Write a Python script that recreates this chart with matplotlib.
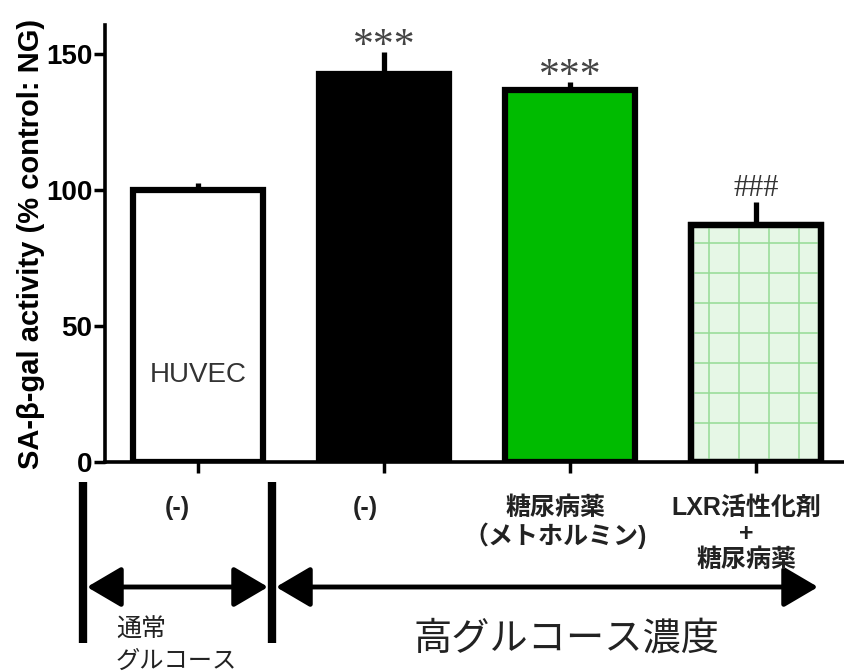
import numpy as np
import matplotlib.pyplot as plt
from matplotlib import transforms
from matplotlib.patches import FancyArrowPatch

# data
groups = ["NG", "HG", "HG+Met", "HG+LXR+Met"]
activity = [100.0, 142.5, 136.8, 87.3]
sem = [2.5, 8.3, 3.0, 8.4]
marks = ["", "***", "***", "###"]
treat_labels = ["(-)", "(-)", "糖尿病薬\n（メトホルミン)", "LXR活性化剤\n+\n糖尿病薬"]
yticks = [0, 50, 100, 150]

plt.rcParams["font.family"] = ["Liberation Sans", "Noto Sans CJK JP", "DejaVu Sans"]

W, H = 844, 672
fig = plt.figure(figsize=(W / 100, H / 100), dpi=100)
ax = fig.add_axes([105 / W, 1 - 462 / H, 1 - 105 / W, (462 - 25) / H])


def fy(py):
    return 1 - py / H


x = np.arange(len(groups))
face = ["white", "black", "#00bb00", "#e6f7e6"]
bars = ax.bar(x, activity, width=0.7, color=face, edgecolor="black",
              linewidth=4.5, zorder=2)

# grid pattern inside the last bar
b = bars[3]
for gx in np.arange(-0.253, 0.3, 0.161):
    ln, = ax.plot([x[3] + gx] * 2, [0, activity[3]], color="#95db95", lw=1.1, zorder=2.5)
    ln.set_clip_path(b)
for gy in np.arange(14.3, activity[3], 11.03):
    ln, = ax.plot([x[3] - 0.35, x[3] + 0.35], [gy, gy], color="#95db95", lw=1.1, zorder=2.5)
    ln.set_clip_path(b)
ax.bar(x[3], activity[3], width=0.7, color="none", edgecolor="black",
       linewidth=4.5, zorder=3)

ax.errorbar(x, activity, yerr=[np.zeros(len(sem)), sem], fmt="none",
            ecolor="black", elinewidth=3.8, capsize=0, zorder=1)

for xi, top, m in zip(x, np.add(activity, sem), marks):
    if m == "***":
        ax.text(xi, top - 2.0, m, ha="center", va="baseline", fontsize=30,
                family="Liberation Serif", color="#444444")
    elif m:
        ax.text(xi, top + 2.0, m, ha="center", va="baseline", fontsize=22,
                family="Liberation Serif", color="#333333")

ax.text(x[0], 32, "HUVEC", ha="center", va="center", fontsize=20, color="#333333")

ax.set_xlim(-0.5, 3.473)
ax.set_ylim(0, 160.7)
ax.set_yticks(yticks)
ax.set_yticklabels([str(t) for t in yticks], fontsize=20, fontweight="bold")
ax.set_xticks(x)
ax.set_xticklabels([])
ax.tick_params(axis="both", direction="out", length=8, width=2.5, pad=1)
for s in ["top", "right"]:
    ax.spines[s].set_visible(False)
for s in ["left", "bottom"]:
    ax.spines[s].set_linewidth(2.6)
ax.set_ylabel("SA-β-gal activity (% control: NG)", fontsize=21,
              fontweight="bold", labelpad=1)

# treatment labels below each bar
tr = transforms.blended_transform_factory(ax.transData, fig.transFigure)
label_dx = [-0.11, -0.1, -0.08, -0.05]
for xi, dx, lab in zip(x, label_dx, treat_labels):
    fig.text(xi + dx, fy(496), lab, transform=tr, ha="center", va="top",
             fontsize=18, fontweight="bold", linespacing=1.1, color="#222222")

# group brackets
for px in [83, 272]:
    fig.add_artist(plt.Line2D([px / W, px / W], [fy(482), fy(643)],
                              color="black", lw=6, solid_capstyle="butt"))
for x0, x1 in [(87, 268), (276, 818)]:
    fig.add_artist(FancyArrowPatch((x0 / W, fy(587)), (x1 / W, fy(587)),
                                   transform=fig.transFigure,
                                   arrowstyle="<|-|>,head_length=0.85,head_width=0.5",
                                   mutation_scale=25, lw=3.5, color="black",
                                   shrinkA=0, shrinkB=0))

fig.text(116 / W, fy(630), "通常", ha="left", va="center", fontsize=18, color="#222222")
fig.text(116 / W, fy(662), "グルコース", ha="left", va="center", fontsize=17.5, color="#222222")
fig.text(566 / W, fy(640), "高グルコース濃度", ha="center", va="center", fontsize=27.5,
         color="#222222")

fig.savefig("out.png", dpi=100)
